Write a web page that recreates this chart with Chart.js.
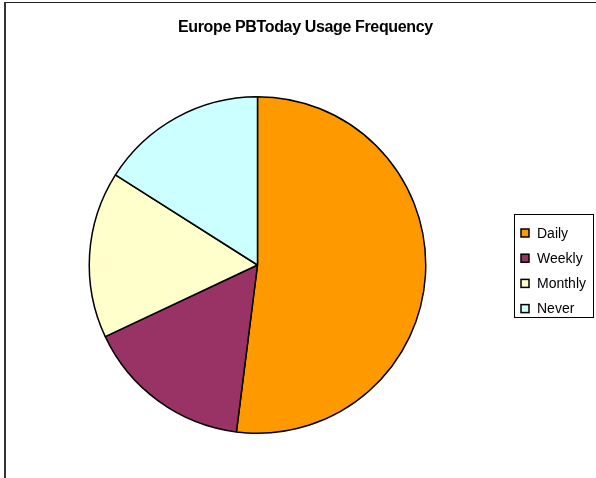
<!DOCTYPE html>
<html><head><meta charset="utf-8">
<script src="https://cdn.jsdelivr.net/npm/chart.js@4/dist/chart.umd.min.js"></script>
<style>
html,body{margin:0;padding:0;background:#fff;}
#wrap{position:relative;width:596px;height:478px;}
#frame{position:absolute;left:4px;top:2px;right:0;bottom:0;border-top:1px solid #222;border-left:2px solid #333;pointer-events:none;}
canvas{position:absolute;left:0;top:0;}
</style></head>
<body>
<div id="wrap"><canvas id="c" width="596" height="478"></canvas><div id="frame"></div></div>
<script>
const titleText = "Europe PBToday Usage Frequency";
const categories = ["Daily", "Weekly", "Monthly", "Never"];
const values = [52, 16, 16, 16];
const colors = ["#FF9900", "#993366", "#FFFFCC", "#CCFFFF"];

const overlay = {
  id: 'overlay',
  afterDraw(chart) {
    const ctx = chart.ctx;
    ctx.save();
    // title
    ctx.fillStyle = '#000';
    ctx.font = 'bold 16px "Liberation Sans", Arial, sans-serif';
    ctx.textAlign = 'left';
    ctx.textBaseline = 'middle';
    const target = 255;
    const natural = ctx.measureText(titleText).width;
    const sp = (target - natural) / (titleText.length - 1);
    if ('letterSpacing' in ctx) {
      ctx.letterSpacing = sp.toFixed(2) + 'px';
      ctx.fillText(titleText, 178, 28);
      ctx.letterSpacing = '0px';
    } else {
      ctx.fillText(titleText, 178, 28);
    }
    // legend box
    ctx.strokeStyle = '#000';
    ctx.lineWidth = 1;
    ctx.strokeRect(514.5, 214.5, 79, 103);
    ctx.font = '14px "Liberation Sans", Arial, sans-serif';
    ctx.textAlign = 'left';
    const labels = chart.data.labels;
    const bg = chart.data.datasets[0].backgroundColor;
    labels.forEach((lab, i) => {
      const y = 233 + i * 25.2;
      ctx.fillStyle = bg[i];
      ctx.fillRect(521, y - 4, 8, 8);
      ctx.lineWidth = 1.5;
      ctx.strokeStyle = '#000';
      ctx.strokeRect(521, y - 4, 8, 8);
      ctx.fillStyle = '#000';
      ctx.fillText(lab, 537, y + 1);
    });
    ctx.restore();
  }
};

new Chart(document.getElementById('c'), {
  type: 'pie',
  data: {
    labels: categories,
    datasets: [{
      data: values,
      backgroundColor: colors,
      borderColor: '#000',
      borderWidth: 1.5
    }]
  },
  options: {
    responsive: false,
    animation: false,
    devicePixelRatio: 1,
    layout: { padding: { top: 96, bottom: 44, left: 88.5, right: 169.5 } },
    plugins: {
      legend: { display: false },
      title: { display: false },
      tooltip: { enabled: false }
    }
  },
  plugins: [overlay]
});
</script>
</body></html>
